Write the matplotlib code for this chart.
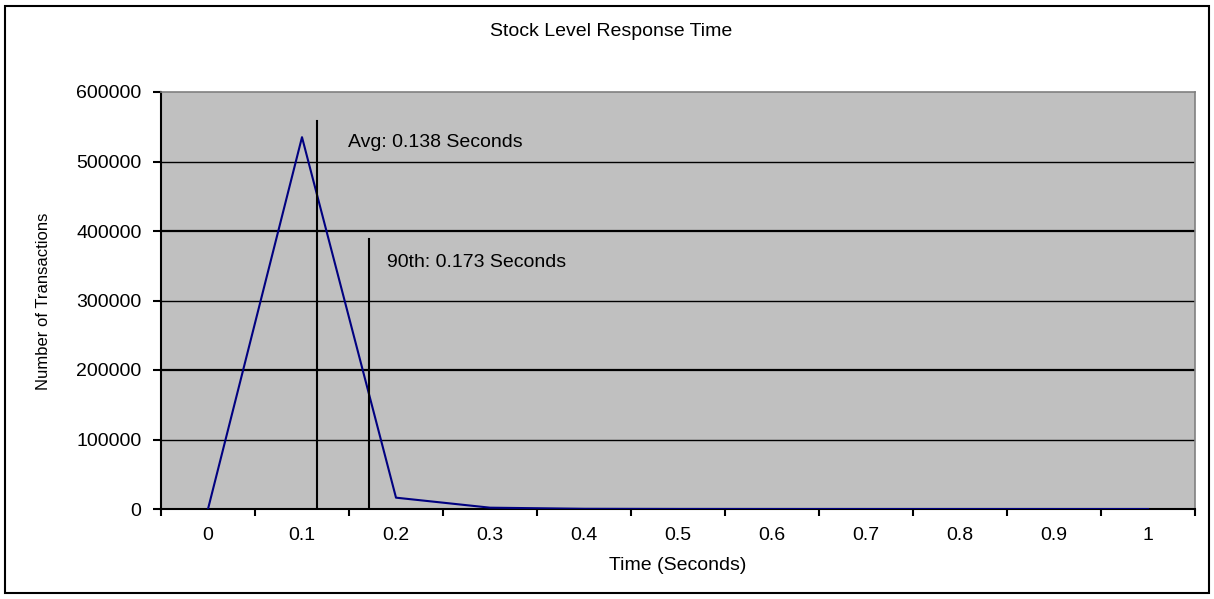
import matplotlib.pyplot as plt
from matplotlib.patches import Rectangle
from matplotlib.ticker import MultipleLocator

plt.rcParams['font.family'] = ['Liberation Sans', 'DejaVu Sans']

# response time buckets (seconds) and transaction counts
times = [0, 0.1, 0.2, 0.3, 0.4, 0.5, 0.6, 0.7, 0.8, 0.9, 1.0]
counts = [0, 535000, 16300, 1900, 300, 80, 30, 10, 5, 2, 0]
tick_labels = ["0", "0.1", "0.2", "0.3", "0.4", "0.5", "0.6", "0.7", "0.8", "0.9", "1"]

# marker lines as drawn on the chart: (x, top, label)
avg_line = (0.116, 558000, "Avg: 0.138 Seconds")
p90_line = (0.171, 388000, "90th: 0.173 Seconds")

W, H = 1214, 599
FS = 14
fig = plt.figure(figsize=(W / 100, H / 100), dpi=100)
ax = fig.add_axes([161 / W, 1 - 509 / H, (1195 - 161) / W, (509 - 92) / H])
ax.set_facecolor("#c0c0c0")

ax.plot(times, counts, color="#000080", lw=1.5, zorder=3)

for x, top, lab in (avg_line, p90_line):
    ax.plot([x, x], [0, top], color="black", lw=1.5, zorder=4)
ax.text(0.149, 528000, avg_line[2], fontsize=FS, va="center", ha="left")
ax.text(0.190, 355000, p90_line[2], fontsize=FS, va="center", ha="left")

ax.set_xlim(-0.05, 1.05)
ax.set_ylim(0, 600000)
ax.set_xticks(times)
ax.set_xticklabels(tick_labels)
ax.set_xticks([t - 0.05 for t in times] + [1.05], minor=True)
ax.tick_params(axis="x", which="major", length=0, pad=13, labelsize=FS)
ax.tick_params(axis="x", which="minor", length=5, width=1.5, direction="out")
ax.yaxis.set_major_locator(MultipleLocator(100000))
ax.tick_params(axis="y", length=6, width=1.5, direction="out", labelsize=FS, pad=8)

for yv in range(100000, 600000, 100000):
    ax.axhline(yv, color="black", lw=1.6 if yv in (200000, 400000) else 1.0, zorder=1)

for s in ("left", "bottom"):
    ax.spines[s].set_color("black")
    ax.spines[s].set_linewidth(1.5)
for s in ("top", "right"):
    ax.spines[s].set_color("#808080")
    ax.spines[s].set_linewidth(1.2)

fig.text(678 / W, 1 - 565 / H, "Time (Seconds)", fontsize=FS, ha="center", va="center")
fig.text(44 / W, 1 - 301 / H, "Number of Transactions", rotation=90,
         fontsize=12, ha="center", va="center")
fig.text(611 / W, 1 - 32 / H, "Stock Level Response Time", fontsize=FS,
         ha="center", va="center")

fig.patches.append(Rectangle((5 / W, 6 / H), (1209 - 5) / W, (593 - 6) / H,
                             transform=fig.transFigure, fill=False,
                             edgecolor="black", lw=1.5))

fig.savefig("out.png", dpi=100)
